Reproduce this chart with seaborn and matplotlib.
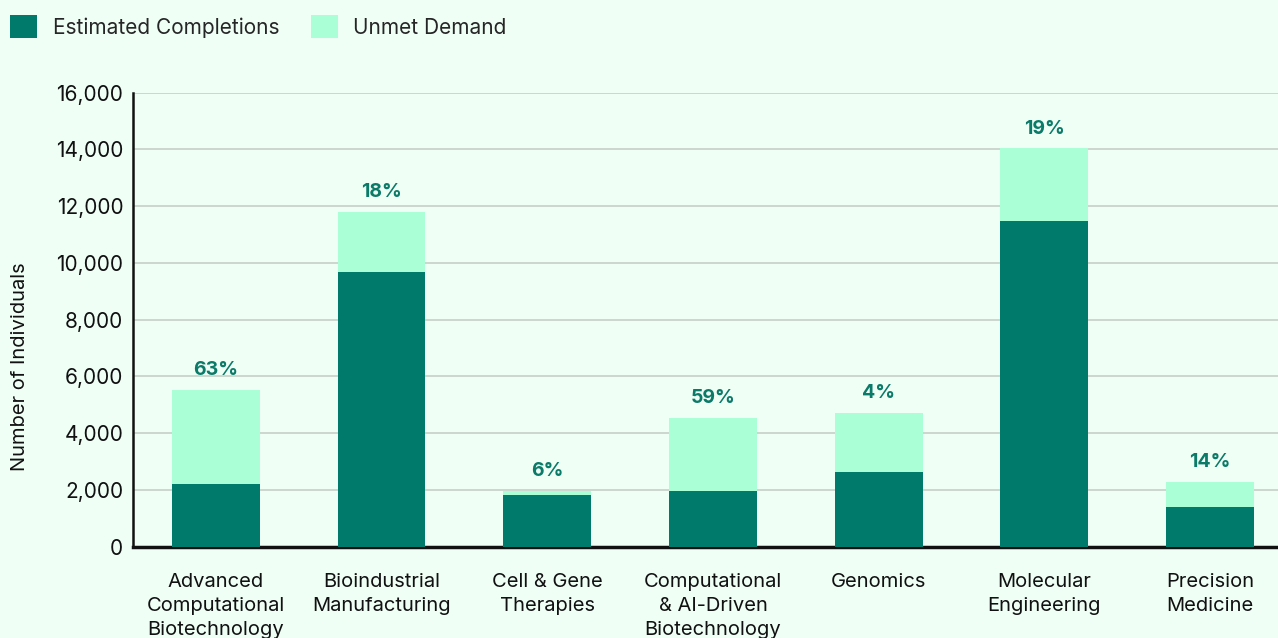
import matplotlib
matplotlib.use("Agg")
import matplotlib.pyplot as plt
from matplotlib.patches import Patch
import seaborn as sns
import pandas as pd

categories = [
    "Advanced\nComputational\nBiotechnology",
    "Bioindustrial\nManufacturing",
    "Cell & Gene\nTherapies",
    "Computational\n& AI-Driven\nBiotechnology",
    "Genomics",
    "Molecular\nEngineering",
    "Precision\nMedicine",
]
completions = [2210, 9680, 1820, 1960, 2630, 11480, 1400]
unmet_demand = [3310, 2120, 140, 2580, 2080, 2560, 880]
pct_labels = ["63%", "18%", "6%", "59%", "4%", "19%", "14%"]
y_ticks = [0, 2000, 4000, 6000, 8000, 10000, 12000, 14000, 16000]

BG = "#effff5"
DARK = "#007b6b"
LIGHT = "#aaffd6"
LABEL = "#0b7a68"
GRID = "#c5d0c9"

sns.set_theme(style="white")
plt.rcParams["font.family"] = ["Inter", "DejaVu Sans"]

df = pd.DataFrame({
    "category": categories,
    "completions": completions,
    "total": [c + u for c, u in zip(completions, unmet_demand)],
})

fig = plt.figure(figsize=(12.78, 6.38), dpi=100, facecolor=BG)
ax = fig.add_axes([133 / 1278, 1 - 546.7 / 638, 1 - 133 / 1278, (546.7 - 92.7) / 638])
ax.set_facecolor(BG)

sns.barplot(data=df, x="category", y="total", color=LIGHT, width=0.53,
            saturation=1, linewidth=0, edgecolor="none", ax=ax, zorder=2)
sns.barplot(data=df, x="category", y="completions", color=DARK, width=0.53,
            saturation=1, linewidth=0, edgecolor="none", ax=ax, zorder=3)

for i, (tot, lab) in enumerate(zip(df["total"], pct_labels)):
    ax.text(i, tot + 380, lab, ha="center", va="bottom", color=LABEL,
            fontsize=14, fontweight="bold")

ax.set_ylim(0, 16000)
ax.set_xlim(-0.5, 6.41)
ax.set_yticks(y_ticks)
ax.set_yticklabels([f"{v:,}" for v in y_ticks])
ax.yaxis.grid(True, color=GRID, linewidth=1.2, zorder=0)
ax.set_axisbelow(True)
ax.tick_params(axis="y", length=0, pad=7, labelsize=15, labelcolor="#111111")
ax.tick_params(axis="x", length=0, pad=19, labelsize=14.5, labelcolor="#111111")
for lbl in ax.get_xticklabels():
    lbl.set_linespacing(1.42)

ax.set_xlabel("")
ax.set_ylabel("Number of Individuals", fontsize=14.5, color="#111111")
ax.yaxis.set_label_coords(-0.0905, 0.396)

for side in ("top", "right"):
    ax.spines[side].set_visible(False)
ax.spines["left"].set_color("#111111")
ax.spines["left"].set_linewidth(1.8)
ax.spines["bottom"].set_color("#111111")
ax.spines["bottom"].set_linewidth(2.5)

handles = [Patch(facecolor=DARK, edgecolor="none", label="Estimated Completions"),
           Patch(facecolor=LIGHT, edgecolor="none", label="Unmet Demand")]
fig.legend(handles=handles, loc="upper left", bbox_to_anchor=(-0.005, 1.002),
           ncol=2, frameon=False, fontsize=15, handlelength=1.3,
           handleheight=1.3, handletextpad=0.75, columnspacing=1.5,
           borderaxespad=0.4)

fig.savefig("out.png", dpi=100, facecolor=BG)
